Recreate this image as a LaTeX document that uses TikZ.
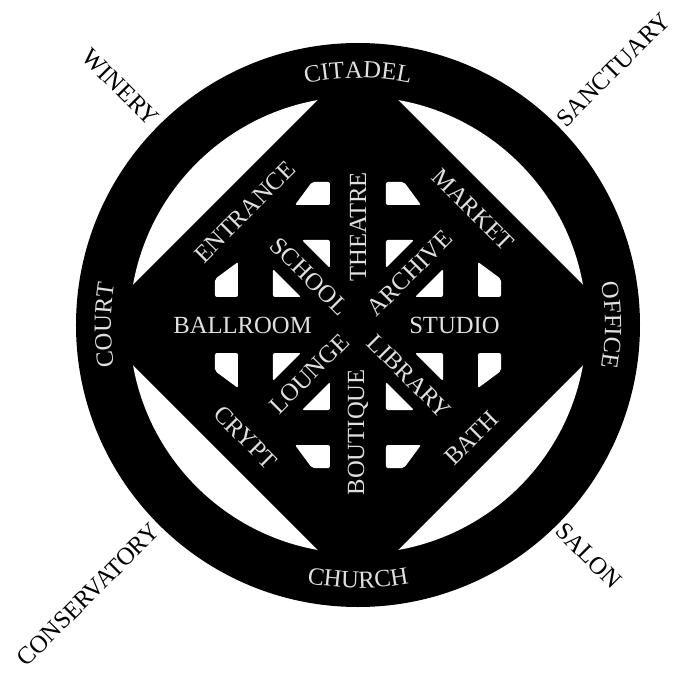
\documentclass[tikz,border=0pt]{standalone}
\usepackage{fontspec}
\setmainfont{Liberation Serif}
\usetikzlibrary{decorations.text}

\newcommand{\roomfont}{\fontsize{18.5}{20}\selectfont}

\begin{document}
\begin{tikzpicture}[x=0.75pt, y=0.75pt,
        % Style definitions
        room/.style={
            font=\roomfont,
            text=white!88!black,
            inner sep=0pt
        },
        place/.style={
            font=\roomfont,
            text=black,
            inner sep=0pt
        },
        window/.style={
            fill=white,
            rounded corners=1.5pt
        },
        ring text/.style={
            decorate,
            decoration={text along path, text align=center,
                text color=white!88!black, text={|\roomfont|#1}}
        }
    ]

        \useasboundingbox (-358,-357) rectangle (316,325);

        % ==========================================
        % Ring, diamond and windows
        % ==========================================
        % Outer ring with the four white lunes
        \fill[black] (0,0) circle[radius=282];
        \fill[white] (0,0) circle[radius=228.5];
        
        % Central diamond
        \fill[black] (0,265) -- (265,0) -- (0,-265) -- (-265,0) -- cycle;
        
        % Window cells, one quadrant mirrored four times
        \foreach \sx/\sy in {1/1, -1/1, 1/-1, -1/-1} {
            \begin{scope}[xscale=\sx, yscale=\sy]
                \fill[window] (-63,120) -- (-46,143) -- (-28,143) -- (-28,120) -- cycle;
                \fill[window] (-120,63) -- (-143,46) -- (-143,28) -- (-120,28) -- cycle;
                \fill[window] (-56,85) -- (-28,85) -- (-28,57) -- cycle;
                \fill[window] (-85,56) -- (-85,28) -- (-57,28) -- cycle;
            \end{scope}
        }

        % ==========================================
        % Labels on the ring
        % ==========================================
        \path[ring text=CITADEL] (125:247) arc[start angle=125, end angle=55, radius=247];
        \path[ring text=CHURCH] (235:263) arc[start angle=235, end angle=305, radius=263];
        \path[ring text=COURT] (205:247) arc[start angle=205, end angle=155, radius=247];
        \path[ring text=OFFICE] (25:247) arc[start angle=25, end angle=-25, radius=247];

        % ==========================================
        % Rooms inside the diamond
        % ==========================================
        % Straight arms
        \node (ballroom) [room, anchor=east] at (-46,0) {BALLROOM};
        \node (studio) [room, anchor=west] at (51,0) {STUDIO};
        \node (theatre) [room, rotate=90, anchor=west] at (0,43) {THEATRE};
        \node (boutique) [room, rotate=90, anchor=east] at (0,-44) {BOUTIQUE};
        
        % Diagonal arms
        \node (school) [room, rotate=-45, anchor=east] at (135:19) {SCHOOL};
        \node (archive) [room, rotate=45, anchor=west] at (45:18) {ARCHIVE};
        \node (lounge) [room, rotate=45, anchor=east] at (225:18) {LOUNGE};
        \node (library) [room, rotate=-45, anchor=west] at (-45:19) {LIBRARY};
        
        % Along the diamond edges
        \node (entrance) [room, rotate=45] at (135:160) {ENTRANCE};
        \node (market) [room, rotate=-45] at (45:163) {MARKET};
        \node (crypt) [room, rotate=-45] at (225:159) {CRYPT};
        \node (bath) [room, rotate=45] at (-45:160) {BATH};

        % ==========================================
        % Places outside the ring
        % ==========================================
        \node (winery) [place, rotate=-45, anchor=east] at (135:287) {WINERY};
        \node (sanctuary) [place, rotate=45, anchor=west] at (45:286) {SANCTUARY};
        \node (conservatory) [place, rotate=45, anchor=east] at (225:286) {CONSERVATORY};
        \node (salon) [place, rotate=-45, anchor=west] at (-45:285) {SALON};

    \end{tikzpicture}
\end{document}
